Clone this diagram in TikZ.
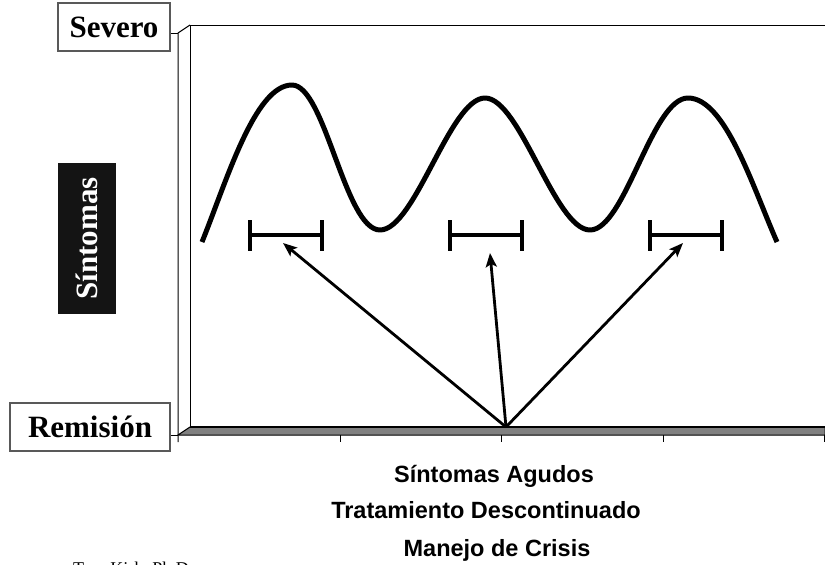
\documentclass[tikz,border=0pt]{standalone}
\usepackage{fontspec}
\setmainfont{Liberation Serif}
\newfontfamily\arialfont{Liberation Sans}
\usetikzlibrary{arrows.meta}
\tikzset{
  axisline/.style={line width=1pt, black},
  lblbox/.style={draw=black!65, line width=1.1pt, fill=white, inner sep=0pt,
     font=\fontsize{31}{36}\selectfont\bfseries},
  bottomlbl/.style={anchor=base, inner sep=0pt, font=\arialfont\fontsize{23.5}{28}\selectfont\bfseries},
  curveline/.style={line width=5pt, line join=round},
  barline/.style={line width=4pt},
  arrowline/.style={line width=2.8pt, -{Stealth[length=14pt,width=11pt,inset=3pt]}},
}
\begin{document}
\begin{tikzpicture}[x=1pt,y=-1pt]
\useasboundingbox (0,0) rectangle (825,565);
% chart frame
\draw[axisline] (190,427) -- (190,25) -- (825,25);
\draw[axisline] (178,442) -- (178,33) -- (190,25);
\draw[axisline] (170,33) -- (178,33);
\draw[axisline] (170,435) -- (178,435);
\filldraw[fill=black!50, draw=black, line width=1pt] (178,435) -- (190,427) -- (825,427) -- (825,435) -- cycle;
\draw[line width=1.6pt] (190,427) -- (825,427);
\foreach \tx in {340,501,663,824} \draw[axisline] (\tx,435) -- (\tx,442);
% labels
\node[lblbox, minimum width=112pt, minimum height=48pt] (severo) at (114,27) {Severo};
\node[lblbox, minimum width=160pt, minimum height=48pt] (remision) at (90,427) {Remisión};
\node[fill=black!92, text=white, rotate=90, minimum width=151pt, minimum height=58pt, inner sep=0pt,
  font=\fontsize{31}{36}\selectfont\bfseries] (sintomas) at (87,238.5) {Síntomas};
% curve
\draw[curveline] (202,242) .. controls (227,180) and (255,85) .. (292,85)
  .. controls (325,85) and (345,230) .. (380,230)
  .. controls (415,230) and (450,98) .. (485,98)
  .. controls (520,98) and (555,230) .. (590,230)
  .. controls (625,230) and (652,98) .. (688,98)
  .. controls (725,98) and (752,185) .. (777,242);
% bars
\foreach \bx/\nm in {250/b1,450/b2,650/b3} {
  \coordinate (\nm) at (\bx+36,235);
  \draw[barline] (\bx,220) -- (\bx,251);
  \draw[barline] (\bx+72,220) -- (\bx+72,251);
  \draw[barline] (\bx,235) -- (\bx+72,235);
}
% arrows
\coordinate (hub) at (506,427);
\coordinate (t1) at (283,243);
\coordinate (t2) at (490,253);
\coordinate (t3) at (683,243);
\draw[arrowline] (hub) -- (t1);
\draw[arrowline] (hub) -- (t2);
\draw[arrowline] (hub) -- (t3);
% bottom text
\node[bottomlbl] (l1) at (494,482) {Síntomas Agudos};
\node[bottomlbl] (l2) at (486,518) {Tratamiento Descontinuado};
\node[bottomlbl] (l3) at (497,556) {Manejo de Crisis};
\node[anchor=base west, inner sep=0pt, font=\fontsize{18}{22}\selectfont] (author) at (73,574) {Tom Kirk, Ph.D.};
\end{tikzpicture}
\end{document}
